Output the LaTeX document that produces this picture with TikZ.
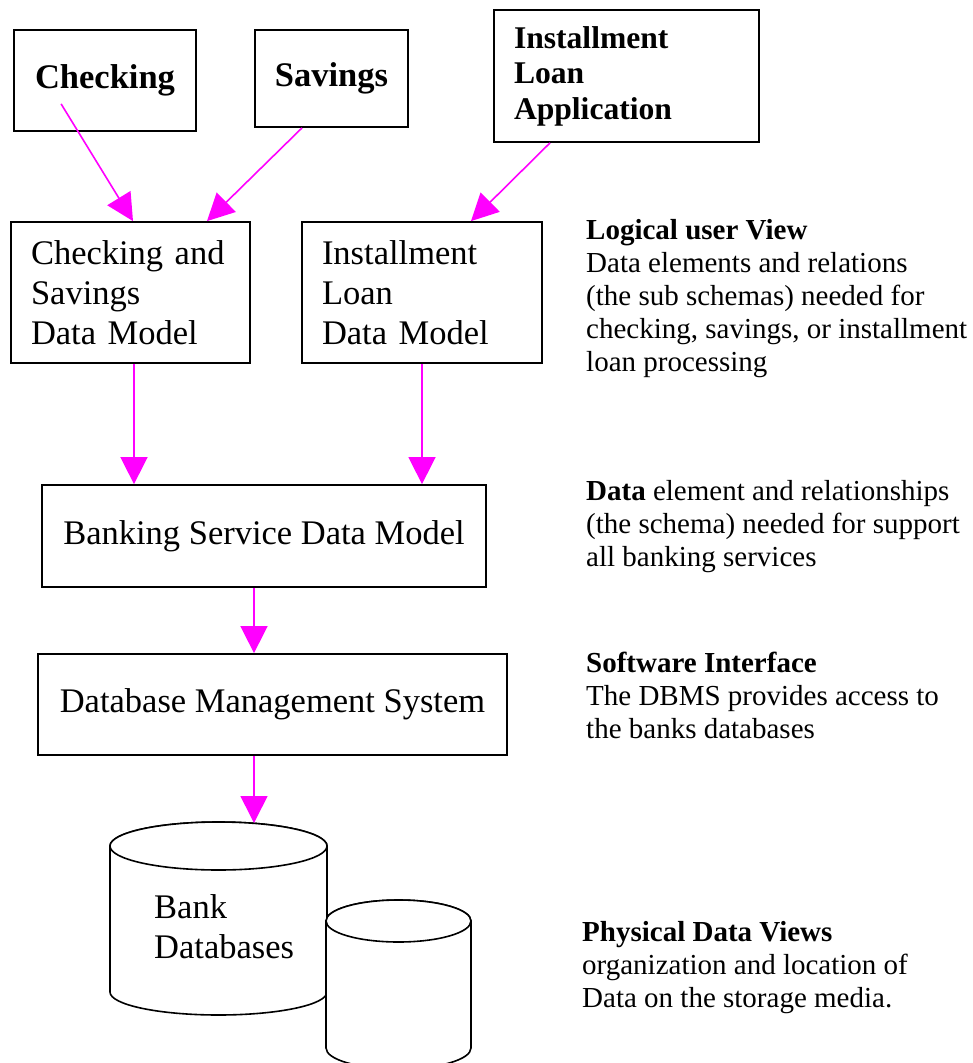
\documentclass[tikz,border=0pt]{standalone}
\usepackage{fontspec}
\setmainfont{Liberation Serif}
\usetikzlibrary{arrows.meta}
\definecolor{linkpink}{RGB}{255,0,255}
\tikzset{
  box/.style={draw=black, line width=1.8pt, inner sep=0pt, fill=white, align=center},
  leftbox/.style={box, inner xsep=20pt, align=left},
  boxfont/.style={font=\fontsize{34.5}{40}\selectfont},
  boldfont/.style={font=\fontsize{34.5}{40}\selectfont\bfseries},
  link/.style={draw=linkpink, line width=1.6pt, -{Triangle[length=27pt,width=27pt,fill=linkpink]}},
  note/.style={anchor=base west, inner sep=0pt, align=left, font=\fontsize{29}{33}\selectfont},
  cyl/.style={draw=black, line width=1.6pt, fill=white},
}
\begin{document}
\begin{tikzpicture}[x=1pt,y=1pt]
\useasboundingbox (0,0) rectangle (973,-1063);
\fill[white] (0,0) rectangle (973,-1063);

% source applications
\node[box, boldfont, minimum width=182pt, minimum height=101pt] (chk) at (105,-80.5) {Checking};
\node[box, boldfont, minimum width=153pt, minimum height=97pt] (sav) at (331.5,-78.5) {Savings};
\node[leftbox, font=\fontsize{31.6}{35.5}\selectfont\bfseries, text width=225pt, minimum height=132pt] (ila) at (626.5,-76) {Installment\\Loan\\Application};

% logical user views
\node[leftbox, boxfont, text width=199pt, minimum height=141pt] (csdm) at (130.5,-292.5) {Checking and\\Savings\\Data Model};
\node[leftbox, boxfont, text width=200pt, minimum height=141pt] (ildm) at (422,-292.5) {Installment\\Loan\\Data Model};

% schema and DBMS
\node[box, boxfont, minimum width=444pt, minimum height=102pt] (bsdm) at (264,-536) {Banking Service Data Model};
\node[box, boxfont, minimum width=469pt, minimum height=101pt] (dbms) at (272.5,-704.5) {Database Management System};

% storage cylinders
\draw[cyl] (110,-846) -- (110,-992) arc[start angle=180, end angle=360, x radius=108.5, y radius=23]
  -- (327,-846) arc[start angle=0, end angle=180, x radius=108.5, y radius=24] -- cycle;
\draw[cyl] (218.5,-846) ellipse [x radius=108.5, y radius=24];
\draw[cyl] (326,-921) -- (326,-1048) arc[start angle=180, end angle=360, x radius=72.5, y radius=21]
  -- (471,-921) arc[start angle=0, end angle=180, x radius=72.5, y radius=21] -- cycle;
\draw[cyl] (398.5,-921) ellipse [x radius=72.5, y radius=21];
% multi-line nodes: the base anchor sits on the last line
\node[anchor=base west, inner sep=0pt, align=left, boxfont] (bankdb) at (154,-958) {Bank\\Databases};
\coordinate (dbtop) at (254,-823);

% connectors
\draw[link] ([xshift=48pt,yshift=28pt]chk.south west) -- ([xshift=2.5pt]csdm.north);
\draw[link] ([xshift=-29.5pt]sav.south) -- ([xshift=76.5pt]csdm.north);
\draw[link] ([xshift=-76.5pt]ila.south) -- ([xshift=49pt]ildm.north);
\draw[link] ([xshift=3.5pt]csdm.south) -- ([xshift=-130pt]bsdm.north);
\draw[link] (ildm.south) -- ([xshift=158pt]bsdm.north);
\draw[link] ([xshift=-10pt]bsdm.south) -- ([xshift=-18.5pt]dbms.north);
\draw[link] ([xshift=-18.5pt]dbms.south) -- (dbtop);

% level descriptions
\node[note] (n1) at (586,-371) {\textbf{Logical user View}\\Data elements and relations\\(the sub schemas) needed for\\checking, savings, or installment\\loan processing};
\node[note] (n2) at (586,-566) {\textbf{Data} element and relationships\\(the schema) needed for support\\all banking services};
\node[note] (n3) at (586,-738) {\textbf{Software Interface}\\The DBMS provides access to\\the banks databases};
\node[note] (n4) at (582,-1007) {\textbf{Physical Data Views}\\organization and location of\\Data on the storage media.};
\end{tikzpicture}
\end{document}
